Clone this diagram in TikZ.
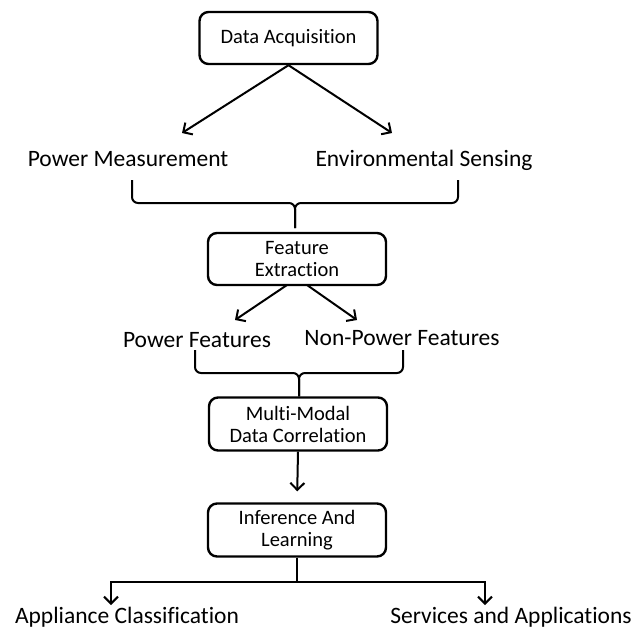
\documentclass[tikz,border=0pt]{standalone}
\usepackage{fontspec}
\setmainfont{Carlito}[Ligatures=NoCommon, RawFeature=-liga]
\usetikzlibrary{arrows.meta}
\begin{document}
\begin{tikzpicture}[x=1pt,y=-1pt,
  procbox/.style={draw=black, line width=2.4pt, rounded corners=9pt,
    minimum width=178pt, minimum height=52pt, align=center,
    font=\fontsize{20.5}{22}\selectfont, inner sep=0pt},
  label/.style={anchor=base, font=\fontsize{23.5}{26}\selectfont, inner sep=0pt},
  arr/.style={line width=2pt, -{Straight Barb[length=7pt,width=14pt,line width=2pt]}},
  link/.style={line width=2pt},
  brace/.style={line width=2pt, rounded corners=6pt}]
\useasboundingbox (0,0) rectangle (636,629);

% processing steps
\node[procbox] (acq) at (288.5,38) {Data Acquisition};
\node[procbox] (feat) at (297,259) {Feature\\Extraction};
\node[procbox, minimum height=53pt] (corr) at (298,424) {Multi-Modal\\Data Correlation};
\node[procbox, minimum height=53pt] (infer) at (297,530) {Inference And\\Learning};

% intermediate and final outputs
\node[label] (pm) at (128,166) {Power Measurement};
\node[label] (es) at (424,166) {Environmental Sensing};
\node[label] (pf) at (197,347) {Power Features};
\node[label] (npf) at (402,345) {Non-Power Features};
\node[label] (ac) at (127,623) {Appliance Classification};
\node[label] (sa) at (511,623) {Services and Applications};

% arrow ends and brace points
\coordinate (pmtip) at (182,133);
\coordinate (estip) at (392,133);
\coordinate (ftl) at (287,285);
\coordinate (ftr) at (307,285);
\coordinate (pftip) at (235,320);
\coordinate (npftip) at (357,320);
\coordinate (b1l) at (132,180);
\coordinate (b1r) at (458,180);
\coordinate (b1m) at (295,203);
\coordinate (b1s) at (295,228);
\coordinate (b2l) at (195,350);
\coordinate (b2r) at (403,350);
\coordinate (b2m) at (299,373);
\coordinate (split) at (297,582);
\coordinate (acl) at (111,582);
\coordinate (sar) at (485,582);
\coordinate (actip) at (111,605);
\coordinate (satip) at (485,605);

% acquisition branches
\draw[arr] (acq.south) -- (pmtip);
\draw[arr] (acq.south) -- (estip);

% first brace
\draw[brace] (b1l) |- (b1m) -- (b1s);
\draw[brace] (b1r) |- (b1m) -- (b1s);

% feature branches
\draw[arr] (ftl) -- (pftip);
\draw[arr] (ftr) -- (npftip);

% second brace
\draw[brace] (b2l) |- (b2m) -- (b2m |- corr.north);
\draw[brace] (b2r) |- (b2m) -- (b2m |- corr.north);

% correlation to inference
\draw[arr, shorten >=11pt] (corr.south) -- (infer.north);

% output split
\draw[link] (infer.south) -- (split);
\draw[arr] (split) -- (acl) -- (actip);
\draw[arr] (split) -- (sar) -- (satip);
\end{tikzpicture}
\end{document}
